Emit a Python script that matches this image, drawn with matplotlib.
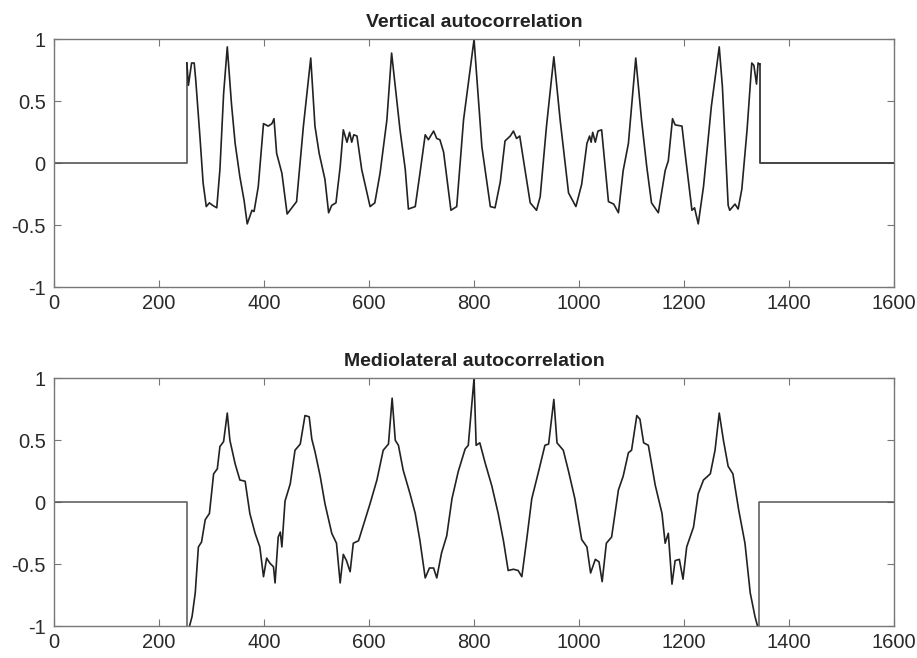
import matplotlib
matplotlib.use('Agg')
import matplotlib.pyplot as plt

# lag axis and autocorrelation readings (vertical acceleration)
vert_lag = [253, 256, 262, 267, 270, 278, 284, 290, 296, 302, 310, 316, 323, 330, 338, 345,
            354, 362, 368, 377, 381, 389, 399, 408, 415, 419, 424, 434, 444, 453, 462, 475,
            489, 497, 505, 516, 523, 529, 537, 545, 551, 558, 563, 567, 571, 577, 586, 602,
            611, 621, 634, 643, 659, 669, 675, 688, 697, 707, 713, 723, 729, 735, 742, 756,
            767, 780, 800, 815, 831, 840, 850, 859, 869, 875, 881, 887, 894, 907, 919, 926,
            938, 952, 964, 980, 994, 1005, 1015, 1020, 1023, 1026, 1031, 1036, 1043, 1056,
            1066, 1075, 1084, 1094, 1108, 1119, 1129, 1138, 1151, 1164, 1170, 1178, 1183,
            1196, 1202, 1215, 1220, 1227, 1237, 1252, 1267, 1273, 1284, 1287, 1297, 1303,
            1310, 1320, 1329, 1333, 1338, 1341, 1344]
vert_acf = [0.81, 0.63, 0.81, 0.81, 0.67, 0.21, -0.16, -0.35, -0.32, -0.34, -0.36, -0.05,
            0.56, 0.94, 0.48, 0.16, -0.11, -0.30, -0.49, -0.38, -0.39, -0.19, 0.32, 0.30,
            0.32, 0.36, 0.08, -0.08, -0.41, -0.36, -0.31, 0.30, 0.85, 0.30, 0.08, -0.13,
            -0.40, -0.34, -0.32, -0.03, 0.27, 0.17, 0.25, 0.17, 0.23, 0.22, -0.05, -0.35,
            -0.32, -0.08, 0.35, 0.89, 0.27, -0.05, -0.37, -0.35, -0.08, 0.23, 0.19, 0.26,
            0.20, 0.19, 0.09, -0.38, -0.35, 0.35, 1.00, 0.13, -0.35, -0.36, -0.15, 0.18,
            0.22, 0.26, 0.20, 0.22, 0.03, -0.32, -0.38, -0.27, 0.30, 0.86, 0.35, -0.24,
            -0.35, -0.17, 0.16, 0.22, 0.17, 0.25, 0.17, 0.26, 0.27, -0.31, -0.33, -0.40,
            -0.06, 0.16, 0.85, 0.35, -0.03, -0.32, -0.40, -0.06, 0.02, 0.36, 0.31, 0.30,
            0.08, -0.38, -0.36, -0.49, -0.19, 0.46, 0.94, 0.62, -0.34, -0.38, -0.33, -0.37,
            -0.21, 0.27, 0.81, 0.79, 0.64, 0.81, 0.80]
vert_pad_left_x = [0, 253, 253]
vert_pad_left_y = [0, 0, 0.81]
vert_pad_right_x = [1344, 1344, 1600]
vert_pad_right_y = [0.80, 0, 0]

# mediolateral acceleration
ml_lag = [258, 263, 269, 275, 281, 288, 296, 304, 311, 316, 323, 330, 335, 345, 354, 364,
          373, 383, 392, 399, 405, 411, 418, 421, 427, 431, 434, 440, 450, 459, 469, 478,
          486, 491, 497, 507, 516, 529, 538, 545, 551, 557, 564, 570, 580, 602, 615, 627,
          637, 644, 650, 656, 665, 678, 688, 697, 707, 715, 723, 729, 738, 748, 758, 770,
          783, 789, 800, 804, 811, 821, 834, 846, 856, 865, 875, 884, 891, 900, 910, 923,
          935, 942, 952, 958, 970, 980, 992, 1005, 1015, 1022, 1031, 1038, 1044, 1052,
          1062, 1075, 1084, 1094, 1100, 1110, 1116, 1123, 1132, 1145, 1158, 1164, 1170,
          1177, 1183, 1191, 1198, 1205, 1218, 1227, 1237, 1250, 1259, 1267, 1275, 1284,
          1293, 1304, 1316, 1326, 1335, 1340]
ml_acf = [-1.0, -0.92, -0.73, -0.36, -0.32, -0.14, -0.09, 0.23, 0.27, 0.45, 0.49, 0.72,
          0.50, 0.31, 0.18, 0.17, -0.09, -0.25, -0.36, -0.60, -0.45, -0.49, -0.52, -0.65,
          -0.28, -0.24, -0.36, 0.01, 0.15, 0.42, 0.47, 0.70, 0.69, 0.51, 0.41, 0.21, -0.01,
          -0.25, -0.33, -0.65, -0.42, -0.47, -0.56, -0.33, -0.31, -0.01, 0.18, 0.42, 0.47,
          0.84, 0.50, 0.46, 0.26, 0.07, -0.09, -0.31, -0.61, -0.53, -0.53, -0.61, -0.41,
          -0.27, 0.03, 0.25, 0.43, 0.46, 1.00, 0.46, 0.48, 0.32, 0.13, -0.09, -0.31, -0.55,
          -0.54, -0.55, -0.60, -0.31, 0.03, 0.25, 0.46, 0.47, 0.83, 0.48, 0.42, 0.25, 0.03,
          -0.30, -0.36, -0.57, -0.46, -0.48, -0.64, -0.33, -0.28, 0.10, 0.21, 0.40, 0.42,
          0.70, 0.67, 0.48, 0.46, 0.14, -0.09, -0.33, -0.25, -0.66, -0.47, -0.46, -0.62,
          -0.36, -0.20, 0.07, 0.18, 0.23, 0.42, 0.72, 0.50, 0.29, 0.23, -0.06, -0.33,
          -0.73, -0.92, -1.0]
ml_pad_left_x = [0, 253, 253]
ml_pad_left_y = [0, 0, -1]
ml_pad_right_x = [1343, 1343, 1600]
ml_pad_right_y = [-1, 0, 0]

x_ticks = [0, 200, 400, 600, 800, 1000, 1200, 1400, 1600]
y_ticks = [-1, -0.5, 0, 0.5, 1]
y_labels = ['-1', '-0.5', '0', '0.5', '1']

plt.rcParams['font.family'] = ['Liberation Sans', 'DejaVu Sans']

fig = plt.figure(figsize=(9.17, 6.58), dpi=100)
ax1 = fig.add_axes([0.0589, 0.5638, 0.9161, 0.3762])
ax2 = fig.add_axes([0.0589, 0.0482, 0.9161, 0.3768])


def style_axis(ax, title):
    ax.set_xlim(0, 1600)
    ax.set_ylim(-1, 1)
    ax.set_xticks(x_ticks)
    ax.set_xticklabels([str(t) for t in x_ticks])
    ax.set_yticks(y_ticks)
    ax.set_yticklabels(y_labels)
    ax.tick_params(direction='in', top=True, right=True, length=5, width=0.8,
                   color='#777777', labelcolor='#2a2a2a', labelsize=14.5)
    ax.tick_params(axis='x', pad=5)
    ax.tick_params(axis='y', pad=6)
    for s in ax.spines.values():
        s.set_color('#777777')
        s.set_linewidth(1.0)
    ax.set_title(title, fontsize=14, fontweight='bold', color='#222222', pad=9)


ax1.plot(vert_pad_left_x, vert_pad_left_y, color='#555555', lw=1.2)
ax1.plot(vert_pad_right_x, vert_pad_right_y, color='#444444', lw=1.4)
ax1.plot(vert_lag, vert_acf, color='#222222', lw=1.2)
style_axis(ax1, 'Vertical autocorrelation')

ax2.plot(ml_pad_left_x, ml_pad_left_y, color='#555555', lw=1.1)
ax2.plot(ml_pad_right_x, ml_pad_right_y, color='#555555', lw=1.1)
ax2.plot(ml_lag, ml_acf, color='#222222', lw=1.2)
style_axis(ax2, 'Mediolateral autocorrelation')

fig.savefig('out.png', dpi=100)
